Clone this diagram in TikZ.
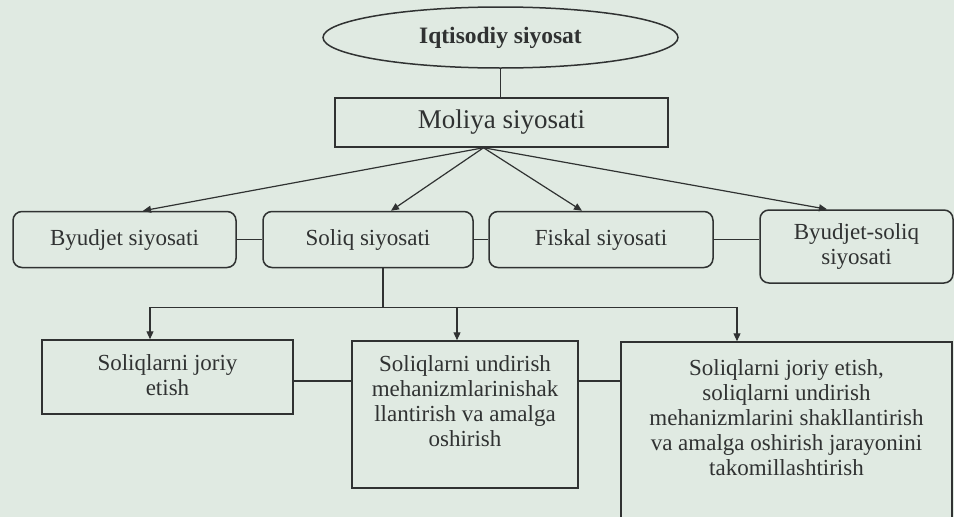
\documentclass[tikz,border=0pt]{standalone}
\usepackage{fontspec}
\setmainfont{Liberation Serif}
\usetikzlibrary{shapes.geometric, arrows.meta}
\definecolor{paper}{RGB}{224,234,226}
\definecolor{ink}{RGB}{48,50,50}

\begin{document}
\begin{tikzpicture}
[every node/.style={inner sep=0pt, text=ink},
 txt/.style={align=center, font=\fontsize{23}{25}\selectfont},
 box/.style={rectangle, draw=ink, line width=1.5pt},
 rbox/.style={box, rounded corners=9pt, txt},
 link/.style={line width=1.2pt, color=ink},
 arr/.style={link, -{Triangle[length=8pt, width=7pt]}}]
\fill [paper] (0pt, 0pt) rectangle (954pt, -517pt);
\useasboundingbox (0pt, 0pt) rectangle (954pt, -517pt);
\node (1) [ellipse, draw=ink, line width=1.5pt, minimum width=355pt, minimum height=61pt, font=\bfseries\fontsize{23.5}{28}\selectfont] at (500.5pt, -37.5pt) {Iqtisodiy siyosat};
\node (2) [box, minimum width=333pt, minimum height=49pt, font=\fontsize{27}{32}\selectfont] at (501.5pt, -122.5pt) {Moliya siyosati};
\node (3) [rbox, minimum width=223pt, minimum height=56pt] at (124.5pt, -239.5pt) {Byudjet siyosati};
\node (4) [rbox, minimum width=210pt, minimum height=56pt] at (368pt, -239.5pt) {Soliq siyosati};
\node (5) [rbox, minimum width=224pt, minimum height=56pt] at (601pt, -239.5pt) {Fiskal siyosati};
\node (6) [rbox, minimum width=193pt, minimum height=73pt] at (856.5pt, -246.5pt) {Byudjet-soliq\\ siyosati};
\node (7) [box, minimum width=251pt, minimum height=74pt, label={[txt, anchor=north, yshift=-15pt]north:Soliqlarni joriy\\ etish}] at (167.5pt, -377pt) {};
\node (8) [box, minimum width=226pt, minimum height=147pt, label={[txt, anchor=north, yshift=-15pt]north:Soliqlarni undirish\\ mehanizmlarinishak\\ llantirish va amalga\\ oshirish}] at (465pt, -414.5pt) {};
\node (9) [box, minimum width=331pt, minimum height=178pt, label={[txt, anchor=north, yshift=-18pt]north:Soliqlarni joriy etish,\\ soliqlarni undirish\\ mehanizmlarini shakllantirish\\ va amalga oshirish jarayonini\\ takomillashtirish}] at (786.5pt, -431pt) {};
\coordinate (m) at ([xshift=-18pt]2.south);
\coordinate (j) at ([xshift=15pt]4.south);
\coordinate (k) at ([yshift=-39pt]j);
\coordinate (a7) at ([xshift=-17.5pt]7.north);
\coordinate (a8) at ([xshift=-8pt]8.north);
\coordinate (a9) at ([xshift=-49.5pt]9.north);
\draw [link] (1.south) -- (1.south |- 2.north);
\draw [arr] (m) -- ([xshift=18.5pt]3.north);
\draw [arr] (m) -- ([xshift=23pt]4.north);
\draw [arr] (m) -- ([xshift=-19pt]5.north);
\draw [arr] (m) -- ([xshift=-29.5pt]6.north);
\draw [link] (3) -- (4);
\draw [link] (4) -- (5);
\draw [link] (5.east) -- (5.east -| 6.west);
\draw [link] (j) -- (k);
\draw [link] (k -| a7) -- (k -| a9);
\draw [arr] (k -| a7) -- (a7);
\draw [arr] (k -| a8) -- (a8);
\draw [arr] (k -| a9) -- (a9);
\draw [link] ([yshift=-4pt]7.east) -- ([yshift=-4pt]7.east -| 8.west);
\draw [link] ([yshift=-4pt]7.east -| 8.east) -- ([yshift=-4pt]7.east -| 9.west);
\end{tikzpicture}
\end{document}
